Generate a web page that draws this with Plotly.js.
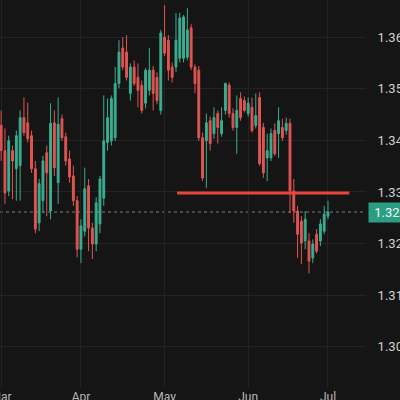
<!DOCTYPE html>
<html>
<head>
<meta charset="utf-8">
<script src="https://cdn.plot.ly/plotly-3.0.1.min.js"></script>
<style>
  html, body { margin: 0; padding: 0; background: #151515; }
  #chart { width: 400px; height: 400px; }
</style>
</head>
<body>
<div id="chart"></div>
<script>
// Daily candles (trading days)
const dates = [
  '2025-03-03','2025-03-04','2025-03-05','2025-03-06','2025-03-07',
  '2025-03-10','2025-03-11','2025-03-12','2025-03-13','2025-03-14',
  '2025-03-17','2025-03-18','2025-03-19','2025-03-20','2025-03-21',
  '2025-03-24','2025-03-25','2025-03-26','2025-03-27','2025-03-28',
  '2025-03-31',
  '2025-04-01','2025-04-02','2025-04-03','2025-04-04',
  '2025-04-07','2025-04-08','2025-04-09','2025-04-10','2025-04-11',
  '2025-04-14','2025-04-15','2025-04-16','2025-04-17','2025-04-18',
  '2025-04-21','2025-04-22','2025-04-23','2025-04-24','2025-04-25',
  '2025-04-28','2025-04-29','2025-04-30',
  '2025-05-01','2025-05-02',
  '2025-05-05','2025-05-06','2025-05-07','2025-05-08','2025-05-09',
  '2025-05-12','2025-05-13','2025-05-14','2025-05-15','2025-05-16',
  '2025-05-19','2025-05-20','2025-05-21','2025-05-22','2025-05-23',
  '2025-05-26','2025-05-27','2025-05-28','2025-05-29','2025-05-30',
  '2025-06-02','2025-06-03','2025-06-04','2025-06-05','2025-06-06',
  '2025-06-09','2025-06-10','2025-06-11','2025-06-12','2025-06-13',
  '2025-06-16','2025-06-17','2025-06-18','2025-06-19','2025-06-20',
  '2025-06-23','2025-06-24','2025-06-25','2025-06-26','2025-06-27',
  '2025-06-30',
  '2025-07-01'
];
const open = [
  1.3429,1.3380,1.3302,1.3380,1.3345,1.3351,1.3444,1.3434,1.3409,1.3345,
  1.3240,1.3283,1.3376,1.3263,1.3434,1.3318,1.3442,1.3407,1.3364,1.3331,
  1.3283,1.3189,1.3224,1.3312,1.3230,1.3199,1.3238,1.3288,1.3396,1.3399,
  1.3405,1.3510,1.3579,1.3571,1.3491,1.3542,1.3522,1.3507,1.3472,1.3497,
  1.3536,1.3522,1.3458,1.3600,1.3594,1.3542,1.3542,1.3559,1.3559,1.3561,
  1.3618,1.3542,1.3536,1.3405,1.3399,1.3438,1.3413,1.3452,1.3413,1.3458,
  1.3507,1.3452,1.3425,1.3481,1.3477,1.3452,1.3464,1.3429,1.3483,1.3425,
  1.3366,1.3366,1.3419,1.3413,1.3425,1.3419,1.3433,1.3302,1.3263,1.3243,
  1.3205,1.3205,1.3172,1.3218,1.3205,1.3224,1.3253
];
const high = [
  1.3458,1.3423,1.3409,1.3390,1.3419,1.3458,1.3483,1.3473,1.3419,1.3360,
  1.3325,1.3370,1.3390,1.3472,1.3458,1.3483,1.3450,1.3415,1.3380,1.3351,
  1.3292,1.3247,1.3347,1.3325,1.3240,1.3290,1.3331,1.3487,1.3481,1.3487,
  1.3542,1.3594,1.3600,1.3604,1.3549,1.3555,1.3549,1.3516,1.3540,1.3579,
  1.3544,1.3532,1.3614,1.3662,1.3604,1.3551,1.3647,1.3647,1.3643,1.3656,
  1.3625,1.3547,1.3544,1.3415,1.3452,1.3446,1.3464,1.3458,1.3464,1.3512,
  1.3512,1.3462,1.3487,1.3493,1.3485,1.3483,1.3483,1.3491,1.3493,1.3434,
  1.3413,1.3423,1.3433,1.3464,1.3442,1.3444,1.3442,1.3325,1.3273,1.3253,
  1.3263,1.3220,1.3208,1.3228,1.3247,1.3273,1.3283
];
const low = [
  1.3360,1.3277,1.3292,1.3286,1.3283,1.3283,1.3409,1.3396,1.3337,1.3220,
  1.3224,1.3259,1.3253,1.3247,1.3331,1.3277,1.3399,1.3351,1.3318,1.3273,
  1.3173,1.3162,1.3214,1.3185,1.3170,1.3185,1.3220,1.3273,1.3380,1.3390,
  1.3399,1.3501,1.3536,1.3516,1.3477,1.3505,1.3464,1.3452,1.3462,1.3487,
  1.3458,1.3470,1.3450,1.3563,1.3516,1.3512,1.3532,1.3551,1.3551,1.3555,
  1.3536,1.3491,1.3399,1.3321,1.3308,1.3380,1.3403,1.3394,1.3407,1.3450,
  1.3444,1.3419,1.3374,1.3438,1.3454,1.3446,1.3415,1.3423,1.3351,1.3327,
  1.3321,1.3360,1.3370,1.3366,1.3399,1.3411,1.3259,1.3240,1.3172,1.3160,
  1.3189,1.3142,1.3162,1.3181,1.3195,1.3218,1.3247
];
const close = [
  1.3380,1.3298,1.3399,1.3360,1.3409,1.3444,1.3415,1.3403,1.3345,1.3228,
  1.3316,1.3360,1.3337,1.3433,1.3347,1.3431,1.3405,1.3360,1.3329,1.3283,
  1.3189,1.3234,1.3306,1.3230,1.3199,1.3279,1.3325,1.3399,1.3444,1.3481,
  1.3510,1.3571,1.3542,1.3522,1.3542,1.3510,1.3497,1.3458,1.3536,1.3536,
  1.3491,1.3477,1.3608,1.3569,1.3536,1.3522,1.3594,1.3637,1.3639,1.3614,
  1.3542,1.3510,1.3405,1.3327,1.3434,1.3394,1.3444,1.3425,1.3438,1.3510,
  1.3452,1.3425,1.3458,1.3444,1.3458,1.3472,1.3419,1.3448,1.3355,1.3337,
  1.3380,1.3413,1.3374,1.3438,1.3405,1.3433,1.3302,1.3263,1.3218,1.3201,
  1.3247,1.3166,1.3199,1.3185,1.3238,1.3257,1.3261
];
const monthTicks  = ['2025-03-03','2025-04-01','2025-05-01','2025-06-02','2025-07-01'];
const monthLabels = ['Mar','Apr','May','Jun','Jul'];
const priceTicks  = [1.30, 1.31, 1.32, 1.33, 1.34, 1.35, 1.36];
const levelPrice  = 1.3298;

const lastClose = close[close.length - 1];

const trace = {
  type: 'candlestick',
  x: dates, open: open, high: high, low: low, close: close,
  increasing: { line: { color: '#3aae90', width: 1 }, fillcolor: '#3aae90' },
  decreasing: { line: { color: '#e05552', width: 1 }, fillcolor: '#e05552' },
  whiskerwidth: 0,
  hoverinfo: 'skip',
  showlegend: false
};

const layout = {
  width: 400, height: 400,
  margin: { l: 0, r: 34, t: 0, b: 12, pad: 0 },
  paper_bgcolor: '#151515',
  plot_bgcolor: '#151515',
  font: { family: 'Roboto, "Noto Sans", sans-serif', color: '#cfcfcf', size: 13 },
  showlegend: false,
  xaxis: {
    type: 'category',
    range: [-0.3, 96],
    rangeslider: { visible: false },
    tickmode: 'array',
    tickvals: monthTicks,
    ticktext: monthLabels,
    showgrid: true,
    gridcolor: '#232323',
    gridwidth: 1,
    zeroline: false,
    showline: false,
    ticks: '',
    tickfont: { size: 12, color: '#b8b8b8' },
    fixedrange: true
  },
  yaxis: {
    side: 'right',
    range: [1.2920, 1.3672],
    tickmode: 'array',
    tickvals: priceTicks,
    ticktext: priceTicks.map(v => v.toFixed(5)),
    showgrid: true,
    gridcolor: '#232323',
    gridwidth: 1,
    zeroline: false,
    showline: false,
    ticks: 'outside',
    ticklen: 8,
    tickcolor: 'rgba(0,0,0,0)',
    tickfont: { size: 13, color: '#d0d0d0' },
    fixedrange: true
  },
  shapes: [
    {
      type: 'line', xref: 'paper', yref: 'y',
      x0: 0, x1: 1, y0: lastClose, y1: lastClose,
      line: { color: 'rgba(170,170,170,0.7)', width: 1, dash: 'dot' },
      layer: 'below'
    },
    {
      type: 'line', xref: 'x', yref: 'y',
      x0: 46.3, x1: 91.6, y0: levelPrice, y1: levelPrice,
      line: { color: '#e8453c', width: 3 },
      layer: 'above'
    }
  ],
  annotations: [
    {
      xref: 'paper', yref: 'y', x: 1, y: lastClose,
      xanchor: 'left', yanchor: 'middle', xshift: 2,
      text: '&nbsp;' + lastClose.toFixed(5),
      showarrow: false,
      bgcolor: '#2a9e82',
      borderpad: 2,
      font: { size: 13, color: '#f2f2f2' }
    }
  ]
};

Plotly.newPlot('chart', [trace], layout, { displayModeBar: false, staticPlot: true });
</script>
</body>
</html>
